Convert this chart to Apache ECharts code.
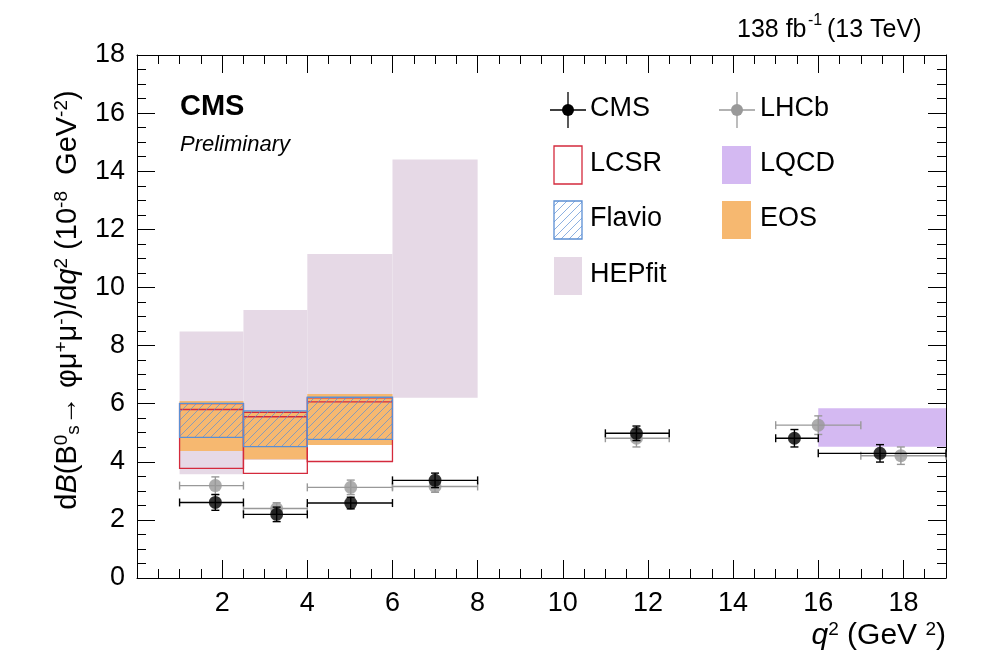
<!DOCTYPE html>
<html lang="en">
<head>
<meta charset="UTF-8">
<title>chart</title>
<script src="https://cdn.jsdelivr.net/npm/echarts@6/dist/echarts.min.js"></script>
</head>
<body style="margin:0">
<div id="main" style="width:996px;height:672px;"></div>
<script>
// bin edges [lo, hi] and band [low, high, central]
var binEdges = [[1, 2.5], [2.5, 4], [4, 6], [6, 8]];
var hepfit = [[3.57, 8.48], [4.06, 9.22], [4.7, 11.15], [6.2, 14.4]];
var eos = [[4.37, 6.09], [4.09, 5.75], [4.58, 6.33]];
var flavio = [[4.84, 6.01], [4.52, 5.75], [4.77, 6.22]];
var lcsr = [[3.77, 6.0, 5.8], [3.6, 5.7, 5.55], [4.01, 6.2, 6.06]];
var lqcd = [[16, 19, 4.52, 5.84]];
// points: [x, y, xlo, xhi, yerr]
var cmsPts = [[1.84, 2.6, 1, 2.5, 0.27], [3.28, 2.19, 2.5, 4, 0.25], [5.02, 2.58, 4, 6, 0.2], [7.0, 3.36, 6, 8, 0.25],
  [11.73, 4.98, 11, 12.5, 0.25], [15.44, 4.81, 15, 16, 0.3], [17.45, 4.29, 16, 19, 0.3]];
var lhcbPts = [[1.84, 3.18, 1, 2.5, 0.3], [3.28, 2.39, 2.5, 4, 0.2], [5.02, 3.12, 4, 6, 0.25], [7.0, 3.15, 6, 8, 0.2],
  [11.73, 4.81, 11, 12.5, 0.3], [16.0, 5.26, 15, 17, 0.32], [17.94, 4.21, 17, 19, 0.3]];

var F = 'Liberation Sans, Arial, sans-serif';
var hatch = document.createElement('canvas');
hatch.width = 8; hatch.height = 8;
var hc = hatch.getContext('2d');
hc.strokeStyle = '#5b8fd4'; hc.lineWidth = 0.7;
hc.beginPath(); hc.moveTo(0, 8); hc.lineTo(8, 0); hc.moveTo(-2, 2); hc.lineTo(2, -2); hc.moveTo(6, 10); hc.lineTo(10, 6); hc.stroke();

function bandData(arr) {
  return arr.map(function (b, i) { return [binEdges[i][0], binEdges[i][1], b[0], b[1], b[2] == null ? NaN : b[2]]; });
}
function boxSeries(name, data, style, z, mid) {
  return {
    name: name, type: 'custom', z: z, silent: true,
    data: data,
    renderItem: function (params, api) {
      var p1 = api.coord([api.value(0), api.value(3)]);
      var p2 = api.coord([api.value(1), api.value(2)]);
      var kids = [{ type: 'rect', shape: { x: p1[0], y: p1[1], width: p2[0] - p1[0], height: p2[1] - p1[1] }, style: style }];
      if (mid) {
        var c = api.coord([api.value(0), api.value(4)]);
        kids.push({ type: 'line', shape: { x1: p1[0], y1: c[1], x2: p2[0], y2: c[1] }, style: { stroke: '#d42a3c', lineWidth: 1.3 } });
      }
      return { type: 'group', children: kids };
    }
  };
}
function errSeries(name, pts, color, z) {
  return {
    name: name + 'err', type: 'custom', z: z, silent: true,
    data: pts,
    renderItem: function (params, api) {
      var c = api.coord([api.value(0), api.value(1)]);
      var l = api.coord([api.value(2), api.value(1)]);
      var r = api.coord([api.value(3), api.value(1)]);
      var t = api.coord([api.value(0), api.value(1) + api.value(4)]);
      var b = api.coord([api.value(0), api.value(1) - api.value(4)]);
      var s = { stroke: color, lineWidth: 1.4 };
      return { type: 'group', children: [
        { type: 'line', shape: { x1: l[0], y1: c[1], x2: r[0], y2: c[1] }, style: s },
        { type: 'line', shape: { x1: l[0], y1: c[1] - 4, x2: l[0], y2: c[1] + 4 }, style: s },
        { type: 'line', shape: { x1: r[0], y1: c[1] - 4, x2: r[0], y2: c[1] + 4 }, style: s },
        { type: 'line', shape: { x1: c[0], y1: t[1], x2: c[0], y2: b[1] }, style: s },
        { type: 'line', shape: { x1: c[0] - 4, y1: t[1], x2: c[0] + 4, y2: t[1] }, style: s },
        { type: 'line', shape: { x1: c[0] - 4, y1: b[1], x2: c[0] + 4, y2: b[1] }, style: s }
      ] };
    }
  };
}
function axis(show, pos) {
  return {
    type: 'value', position: pos, splitLine: { show: false },
    axisLine: { show: true, onZero: false, lineStyle: { color: '#000', width: 1 } },
    axisTick: { show: true, inside: true, length: 18, lineStyle: { color: '#000' } },
    minorTick: { show: true, splitNumber: 4, length: 9, lineStyle: { color: '#000' } },
    axisLabel: { show: show, color: '#000', fontFamily: F, fontSize: 27, margin: 12 }
  };
}
var xa = axis(true, 'bottom'); xa.min = 0; xa.max = 19; xa.interval = 2;
xa.axisLabel.formatter = function (v) { return (v === 0 || v > 18) ? '' : v; };
var xt = axis(false, 'top'); xt.min = 0; xt.max = 19; xt.interval = 2;
var ya = axis(true, 'left'); ya.min = 0; ya.max = 18; ya.interval = 2;
var yr = axis(false, 'right'); yr.min = 0; yr.max = 18; yr.interval = 2;

var myChart = echarts.init(document.getElementById('main'));
var legY = [110, 165, 220, 276];
function legText(x, y, t) { return { type: 'text', left: x, top: y - 15, style: { text: t, font: '27px ' + F, fill: '#000' } }; }
myChart.setOption({
  animation: false,
  grid: { left: 137, right: 50, top: 55, bottom: 94, outerBoundsMode: 'none', containLabel: false },
  xAxis: [xa, xt],
  yAxis: [ya, yr],
  series: [
    boxSeries('HEPfit', bandData(hepfit), { fill: '#e6d9e6' }, 1),
    boxSeries('LQCD', lqcd, { fill: '#d4b9f2' }, 2),
    boxSeries('EOS', bandData(eos), { fill: '#f6b870' }, 3),
    boxSeries('LCSR', bandData(lcsr), { fill: 'none', stroke: '#d42a3c', lineWidth: 1.3 }, 4, true),
    boxSeries('Flavio', bandData(flavio), { fill: { image: hatch, repeat: 'repeat' }, stroke: '#5b8fd4', lineWidth: 1.3 }, 5),
    errSeries('LHCb', lhcbPts, '#999', 6),
    { name: 'LHCb', type: 'scatter', z: 7, symbolSize: 13, itemStyle: { color: '#999' }, data: lhcbPts.map(function (p) { return [p[0], p[1]]; }) },
    errSeries('CMS', cmsPts, '#000', 8),
    { name: 'CMS', type: 'scatter', z: 9, symbolSize: 13, itemStyle: { color: '#000' }, data: cmsPts.map(function (p) { return [p[0], p[1]]; }) }
  ],
  graphic: [
    { type: 'text', x: 68, y: 300, rotation: Math.PI / 2,
      style: { text: 'd{i|B}(B{s|0}{b|s}→ φμ{s|+}μ{s|-})/d{i|q}{s|2} (10{s|-8}  GeV{s|-2})',
        font: '29px ' + F, fill: '#000', align: 'center', verticalAlign: 'middle',
        rich: { i: { fontStyle: 'italic', fontSize: 29, fontFamily: F }, s: { fontSize: 19, fontFamily: F, verticalAlign: 'top', padding: [0, 0, 12, 0] },
          b: { fontSize: 19, fontFamily: F, verticalAlign: 'bottom', padding: [12, 0, 0, 0] } } } },
    { type: 'text', x: 946, y: 636,
      style: { text: '{i|q}{s|2} (GeV {s|2})', font: '30px ' + F, fill: '#000', align: 'right', verticalAlign: 'middle',
        rich: { i: { fontStyle: 'italic', fontSize: 30, fontFamily: F }, s: { fontSize: 19, fontFamily: F, verticalAlign: 'top', padding: [0, 0, 12, 0] } } } },
    { type: 'text', left: 737, top: 18, style: { text: '138 fb', font: '25px ' + F, fill: '#000' } },
    { type: 'text', left: 808, top: 13, style: { text: '-1', font: '16px ' + F, fill: '#000' } },
    { type: 'text', left: 827, top: 18, style: { text: '(13 TeV)', font: '25px ' + F, fill: '#000' } },
    { type: 'text', left: 180, top: 92, style: { text: 'CMS', font: 'bold 29px ' + F, fill: '#000' } },
    { type: 'text', left: 180, top: 134, style: { text: 'Preliminary', font: 'italic 22px ' + F, fill: '#000' } },
    // legend markers
    { type: 'line', shape: { x1: 568, y1: legY[0] - 18, x2: 568, y2: legY[0] + 18 }, style: { stroke: '#000', lineWidth: 1.3 } },
    { type: 'line', shape: { x1: 550, y1: legY[0], x2: 586, y2: legY[0] }, style: { stroke: '#000', lineWidth: 1.3 } },
    { type: 'circle', shape: { cx: 568, cy: legY[0], r: 6 }, style: { fill: '#000' } },
    { type: 'line', shape: { x1: 737, y1: legY[0] - 18, x2: 737, y2: legY[0] + 18 }, style: { stroke: '#999', lineWidth: 1.3 } },
    { type: 'line', shape: { x1: 719, y1: legY[0], x2: 755, y2: legY[0] }, style: { stroke: '#999', lineWidth: 1.3 } },
    { type: 'circle', shape: { cx: 737, cy: legY[0], r: 6 }, style: { fill: '#999' } },
    { type: 'rect', shape: { x: 554, y: legY[1] - 19, width: 28, height: 38 }, style: { fill: '#fff', stroke: '#d42a3c', lineWidth: 1.3 } },
    { type: 'rect', shape: { x: 722, y: legY[1] - 19, width: 29, height: 38 }, style: { fill: '#d4b9f2' } },
    { type: 'rect', shape: { x: 554, y: legY[2] - 19, width: 28, height: 38 }, style: { fill: { image: hatch, repeat: 'repeat' }, stroke: '#5b8fd4', lineWidth: 1.3 } },
    { type: 'rect', shape: { x: 722, y: legY[2] - 19, width: 29, height: 38 }, style: { fill: '#f6b870' } },
    { type: 'rect', shape: { x: 554, y: legY[3] - 19, width: 28, height: 38 }, style: { fill: '#e6d9e6' } },
    legText(590, legY[0], 'CMS'), legText(760, legY[0], 'LHCb'),
    legText(590, legY[1], 'LCSR'), legText(760, legY[1], 'LQCD'),
    legText(590, legY[2], 'Flavio'), legText(760, legY[2], 'EOS'),
    legText(590, legY[3], 'HEPfit')
  ]
});
</script>
</body>
</html>
